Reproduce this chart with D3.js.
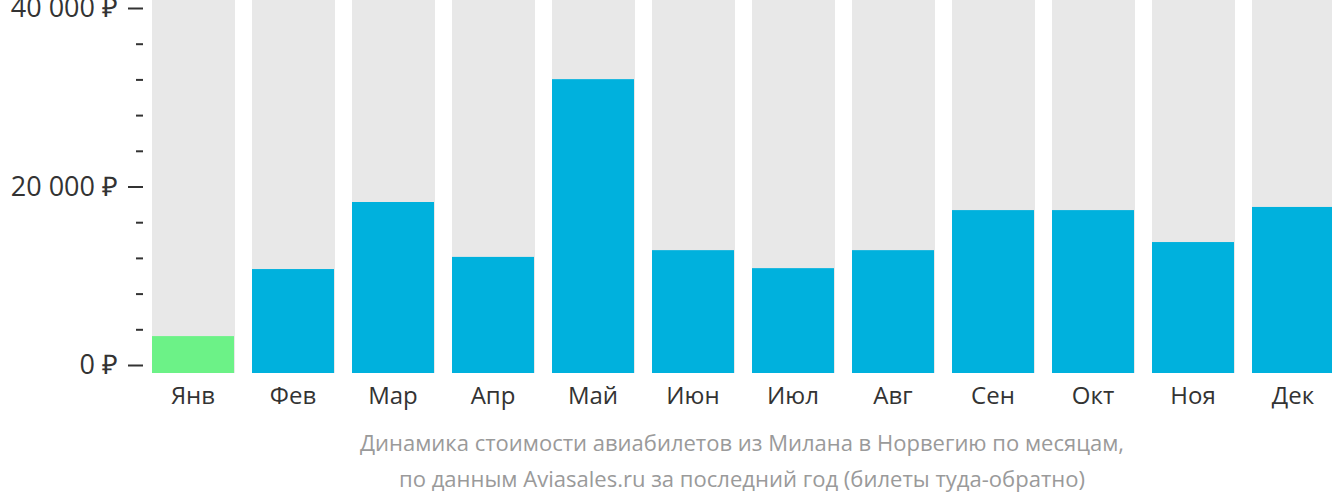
<!DOCTYPE html>
<html><head><meta charset="utf-8">
<script src="https://cdn.jsdelivr.net/npm/d3@7"></script>
<style>
html,body{margin:0;padding:0;background:#fff;}
svg{display:block;}
</style></head>
<body>
<svg id="chart" width="1332" height="502"></svg>
<script>
const months = ["Янв","Фев","Мар","Апр","Май","Июн","Июл","Авг","Сен","Окт","Ноя","Дек"];
const prices = [4100, 11550, 19000, 12900, 32650, 13650, 11650, 13650, 18100, 18100, 14550, 18450];
const cheapestIndex = 0;
const majorTicks = [0, 20000, 40000];
const minorTicks = [4000, 8000, 12000, 16000, 24000, 28000, 32000, 36000];
const tickLabels = ["0 ₽", "20 000 ₽", "40 000 ₽"];
const captionLines = [
  "Динамика стоимости авиабилетов из Милана в Норвегию по месяцам,",
  "по данным Aviasales.ru за последний год (билеты туда-обратно)"
];

const svg = d3.select("#chart");
const baseY = 373;

const x = d3.scaleBand().domain(months).range([143, 1343]).paddingInner(0.18).paddingOuter(0.09);
const yBar = d3.scaleLinear().domain([0, 40000]).range([baseY, baseY - 360]);
const yAxis = d3.scaleLinear().domain([0, 40000]).range([365, 8]);

// background bars
svg.append("g").selectAll("rect").data(months).join("rect")
  .attr("x", d => x(d)).attr("y", 0)
  .attr("width", x.bandwidth() + 1).attr("height", baseY)
  .attr("fill", "#e8e8e8");

// value bars
svg.append("g").selectAll("rect").data(prices).join("rect")
  .attr("x", (d, i) => x(months[i])).attr("y", d => yBar(d))
  .attr("width", x.bandwidth()).attr("height", d => baseY - yBar(d))
  .attr("fill", (d, i) => i === cheapestIndex ? "#6cf287" : "#00b1dd");

// axis
const axisG = svg.append("g").attr("transform", "translate(143,0)");
const major = d3.axisLeft(yAxis).tickValues(majorTicks).tickSize(15).tickPadding(10)
  .tickFormat((d, i) => tickLabels[i]);
axisG.call(major);
axisG.select(".domain").remove();
axisG.selectAll(".tick line").attr("stroke", "#333").attr("stroke-width", 2);
axisG.selectAll(".tick text").attr("fill", "#333")
  .style("font-family", "'Open Sans'").style("font-size", "27px");

const minorG = svg.append("g").attr("transform", "translate(143,0)");
const minor = d3.axisLeft(yAxis).tickValues(minorTicks).tickSize(7).tickFormat("");
minorG.call(minor);
minorG.select(".domain").remove();
minorG.selectAll(".tick line").attr("stroke", "#333").attr("stroke-width", 2);

// month labels
svg.append("g").selectAll("text").data(months).join("text")
  .attr("x", d => x(d) + x.bandwidth() / 2).attr("y", 404)
  .attr("text-anchor", "middle")
  .attr("fill", "#333")
  .style("font-family", "'Open Sans'").style("font-size", "24px")
  .text(d => d);

// caption
svg.append("g").selectAll("text").data(captionLines).join("text")
  .attr("x", 742).attr("y", (d, i) => 451 + i * 36)
  .attr("text-anchor", "middle")
  .attr("fill", "#9a9a9a")
  .attr("textLength", (d, i) => i === 0 ? 764 : 686)
  .attr("lengthAdjust", "spacingAndGlyphs")
  .style("font-family", "'Open Sans'").style("font-size", "21px")
  .text(d => d);
</script>
</body></html>
